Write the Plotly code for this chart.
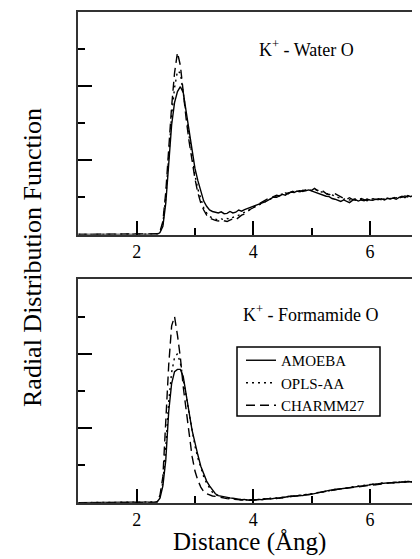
import plotly.graph_objects as go

# distance grid (Å)
r = [1.00, 2.30, 2.35, 2.40, 2.45, 2.50, 2.55, 2.60, 2.65, 2.70, 2.75, 2.80, 2.85, 2.90, 2.95,
     3.00, 3.05, 3.10, 3.15, 3.20, 3.25, 3.30, 3.35, 3.40, 3.45, 3.50, 3.55, 3.60, 3.65, 3.70,
     3.75, 3.80, 3.85, 3.90, 3.95, 4.00, 4.05, 4.10, 4.15, 4.20, 4.25, 4.30, 4.35, 4.40, 4.45,
     4.50, 4.55, 4.60, 4.65, 4.70, 4.75, 4.80, 4.85, 4.90, 4.95, 5.00, 5.05, 5.10, 5.15, 5.20,
     5.25, 5.30, 5.35, 5.40, 5.45, 5.50, 5.55, 5.60, 5.65, 5.70, 5.75, 5.80, 5.85, 5.90, 5.95,
     6.00, 6.05, 6.10, 6.15, 6.20, 6.25, 6.30, 6.35, 6.40, 6.45, 6.50, 6.55, 6.60, 6.65, 6.70,
     6.75, 6.80, 6.85, 6.90]

# K+ - Water O
water_amoeba = [0, 0, 0.00, 0.05, 0.22, 0.85, 1.95, 2.95, 3.55, 3.85, 3.98, 3.82, 3.30, 2.75, 2.20,
                1.78, 1.45, 1.15, 0.90, 0.76, 0.66, 0.62, 0.60, 0.58, 0.61, 0.56, 0.57, 0.62, 0.58, 0.60,
                0.66, 0.63, 0.67, 0.70, 0.72, 0.74, 0.78, 0.80, 0.85, 0.88, 0.92, 0.97, 1.01, 1.00, 1.05,
                1.08, 1.06, 1.12, 1.14, 1.13, 1.17, 1.15, 1.19, 1.18, 1.20, 1.17, 1.15, 1.12, 1.08, 1.06,
                1.03, 1.02, 0.97, 0.95, 0.91, 0.89, 0.93, 0.90, 0.86, 0.92, 0.94, 0.90, 0.93, 0.91, 0.95,
                0.93, 0.92, 0.95, 0.94, 0.96, 0.93, 0.97, 0.96, 0.98, 0.95, 1.00, 1.03, 0.99, 1.05, 1.02,
                1.06, 1.04, 1.07, 1.05]
water_opls = [0, 0, 0.01, 0.06, 0.30, 1.00, 2.15, 3.20, 3.95, 4.40, 4.35, 3.85, 3.25, 2.65, 2.08,
              1.60, 1.22, 0.94, 0.72, 0.58, 0.49, 0.44, 0.41, 0.39, 0.42, 0.40, 0.43, 0.41, 0.46, 0.48,
              0.52, 0.56, 0.60, 0.64, 0.69, 0.73, 0.78, 0.82, 0.86, 0.90, 0.94, 0.98, 1.02, 1.04, 1.07,
              1.09, 1.11, 1.10, 1.14, 1.16, 1.15, 1.18, 1.17, 1.19, 1.21, 1.18, 1.22, 1.19, 1.16, 1.13,
              1.09, 1.10, 1.06, 1.03, 1.00, 0.98, 0.95, 0.97, 0.93, 0.95, 0.92, 0.96, 0.94, 0.92, 0.95,
              0.94, 0.96, 0.93, 0.95, 0.97, 0.95, 0.96, 0.98, 0.97, 1.00, 0.99, 1.01, 1.03, 1.02, 1.04,
              1.03, 1.05, 1.06, 1.05]
water_charmm = [0, 0, 0.02, 0.08, 0.35, 1.15, 2.35, 3.45, 4.35, 4.90, 4.55, 3.75, 3.10, 2.50, 1.95,
                1.50, 1.12, 0.85, 0.66, 0.52, 0.44, 0.40, 0.38, 0.36, 0.40, 0.37, 0.35, 0.39, 0.42, 0.40,
                0.47, 0.52, 0.55, 0.62, 0.68, 0.72, 0.80, 0.83, 0.88, 0.91, 0.96, 0.99, 1.03, 1.06, 1.04,
                1.10, 1.12, 1.10, 1.15, 1.17, 1.14, 1.18, 1.16, 1.20, 1.17, 1.19, 1.24, 1.18, 1.22, 1.15,
                1.10, 1.07, 1.12, 1.10, 1.05, 1.01, 0.97, 0.95, 0.99, 0.94, 0.96, 0.93, 0.97, 0.94, 0.91,
                0.95, 0.97, 0.94, 0.96, 0.93, 0.95, 0.98, 0.96, 0.99, 1.01, 0.98, 1.02, 1.04, 1.01, 1.05,
                1.03, 1.06, 1.04, 1.06]

# K+ - Formamide O
form_amoeba = [0, 0, 0.02, 0.12, 0.45, 1.15, 2.45, 3.20, 3.52, 3.58, 3.58, 3.38, 2.95, 2.42, 1.95,
               1.58, 1.28, 0.98, 0.75, 0.58, 0.45, 0.33, 0.24, 0.19, 0.17, 0.16, 0.15, 0.13, 0.12, 0.10,
               0.09, 0.08, 0.09, 0.07, 0.08, 0.07, 0.08, 0.09, 0.08, 0.10, 0.11, 0.10, 0.12, 0.13, 0.12,
               0.14, 0.15, 0.16, 0.18, 0.17, 0.19, 0.20, 0.19, 0.22, 0.21, 0.23, 0.25, 0.26, 0.28, 0.30,
               0.31, 0.33, 0.34, 0.35, 0.37, 0.38, 0.39, 0.40, 0.41, 0.43, 0.42, 0.44, 0.45, 0.46, 0.47,
               0.48, 0.50, 0.49, 0.51, 0.52, 0.51, 0.53, 0.54, 0.53, 0.55, 0.54, 0.56, 0.55, 0.57, 0.56,
               0.55, 0.57, 0.56, 0.57]
form_opls = [0, 0, 0.02, 0.15, 0.55, 1.50, 2.70, 3.50, 3.90, 4.00, 3.75, 3.30, 2.85, 2.35, 1.90,
             1.52, 1.20, 0.92, 0.70, 0.52, 0.38, 0.28, 0.22, 0.18, 0.16, 0.14, 0.13, 0.12, 0.11, 0.09,
             0.10, 0.08, 0.07, 0.08, 0.06, 0.08, 0.07, 0.09, 0.10, 0.09, 0.10, 0.12, 0.11, 0.13, 0.14,
             0.13, 0.15, 0.17, 0.16, 0.18, 0.20, 0.19, 0.21, 0.22, 0.23, 0.24, 0.24, 0.27, 0.27, 0.29,
             0.32, 0.32, 0.35, 0.36, 0.36, 0.39, 0.40, 0.39, 0.42, 0.42, 0.43, 0.45, 0.44, 0.47, 0.46,
             0.49, 0.49, 0.50, 0.50, 0.53, 0.52, 0.52, 0.55, 0.54, 0.54, 0.56, 0.55, 0.57, 0.56, 0.57,
             0.56, 0.58, 0.57, 0.58]
form_charmm = [0, 0, 0.03, 0.20, 0.70, 2.20, 3.70, 4.75, 5.00, 4.50, 3.90, 3.10, 2.45, 1.80, 1.25,
               0.85, 0.60, 0.42, 0.30, 0.24, 0.20, 0.18, 0.17, 0.16, 0.14, 0.13, 0.11, 0.10, 0.09, 0.08,
               0.07, 0.06, 0.07, 0.06, 0.07, 0.06, 0.08, 0.07, 0.09, 0.09, 0.10, 0.11, 0.12, 0.11, 0.13,
               0.15, 0.14, 0.16, 0.17, 0.18, 0.18, 0.20, 0.21, 0.21, 0.22, 0.24, 0.25, 0.27, 0.28, 0.29,
               0.30, 0.32, 0.33, 0.35, 0.36, 0.37, 0.38, 0.40, 0.41, 0.42, 0.43, 0.43, 0.45, 0.45, 0.47,
               0.47, 0.49, 0.50, 0.50, 0.51, 0.52, 0.53, 0.53, 0.54, 0.55, 0.55, 0.56, 0.56, 0.56, 0.57,
               0.56, 0.57, 0.58, 0.57]

models = ["AMOEBA", "OPLS-AA", "CHARMM27"]
dashes = ["solid", "2px,4px", "9px,5px"]

FONT = "Liberation Serif, Times New Roman, serif"
OFF = 8            # page body margin
W, H = 420 - OFF, 559 - OFF


def px(x):   # window pixel -> paper x
    return (x - OFF) / W


def py(y):   # window pixel -> paper y
    return 1 - (y - OFF) / H


x_left = 78.3 - OFF
unit = 58.33

fig = go.Figure()
top_series = [water_amoeba, water_opls, water_charmm]
bot_series = [form_amoeba, form_opls, form_charmm]
for name, d, y in zip(models, dashes, top_series):
    fig.add_trace(go.Scatter(x=r, y=y, mode="lines", name=name, legendgroup=name,
                             showlegend=False, line=dict(color="black", width=1.4, dash=d),
                             xaxis="x", yaxis="y"))
for name, d, y in zip(models, dashes, bot_series):
    fig.add_trace(go.Scatter(x=r, y=y, mode="lines", name=name, legendgroup=name,
                             showlegend=True, line=dict(color="black", width=1.4, dash=d),
                             xaxis="x2", yaxis="y2"))

xr = [1.0, 1.0 + (W - x_left) / unit]
common_x = dict(range=xr, domain=[x_left / W, 1.0], tickmode="linear", tick0=0, dtick=2,
                ticks="inside", ticklen=14, tickwidth=1.5, tickcolor="black",
                minor=dict(ticks="inside", ticklen=7, dtick=1, tick0=0, tickwidth=1.5, tickcolor="black"),
                showline=True, linewidth=2, linecolor="#333", mirror=True, showgrid=False,
                zeroline=False, tickfont=dict(family=FONT, size=18, color="black"))
common_y = dict(range=[0, 6], tickmode="linear", tick0=0, dtick=2, ticks="inside", ticklen=14,
                tickwidth=1.5, tickcolor="black",
                minor=dict(ticks="inside", ticklen=7, dtick=1, tick0=0, tickwidth=1.5, tickcolor="black"),
                showline=True, linewidth=2, linecolor="#333", showgrid=False, zeroline=False,
                showticklabels=False)

top_dom = [py(234.5), py(11.7)]
bot_dom = [py(502.7), py(279.3)]

ann_font = dict(family=FONT, size=18, color="black")
fig.update_layout(
    width=W, height=H,
    margin=dict(l=0, r=0, t=0, b=0),
    paper_bgcolor="white", plot_bgcolor="white",
    font=dict(family=FONT, color="black"),
    xaxis=dict(common_x, anchor="y"),
    yaxis=dict(common_y, domain=top_dom, anchor="x"),
    xaxis2=dict(common_x, anchor="y2"),
    yaxis2=dict(common_y, domain=bot_dom, anchor="x2"),
    legend=dict(x=px(241), y=py(344), xanchor="left", yanchor="top",
                borderwidth=0, bgcolor="rgba(0,0,0,0)",
                font=dict(family=FONT, size=15, color="black"), itemwidth=30,
                tracegroupgap=0),
    showlegend=True,
    shapes=[dict(type="rect", xref="paper", yref="paper", x0=px(237), x1=px(380),
                 y0=py(416), y1=py(347), line=dict(color="black", width=1.5),
                 fillcolor="rgba(0,0,0,0)", layer="above")],
    annotations=[
        dict(text="K<sup>+</sup> - Water O", x=px(306), y=py(48), xref="paper", yref="paper",
             xanchor="center", yanchor="middle", showarrow=False, font=ann_font),
        dict(text="K<sup>+</sup> - Formamide O", x=px(311), y=py(313), xref="paper", yref="paper",
             xanchor="center", yanchor="middle", showarrow=False, font=ann_font),
        dict(text="Distance (Ång)", x=px(250), y=py(542), xref="paper", yref="paper",
             xanchor="center", yanchor="middle", showarrow=False,
             font=dict(family=FONT, size=25, color="black")),
        dict(text="Radial Distribution Function", x=px(33), y=py(258), xref="paper", yref="paper",
             xanchor="center", yanchor="middle", showarrow=False, textangle=-90,
             font=dict(family=FONT, size=26, color="black")),
    ],
)

fig.write_html("out.html")
